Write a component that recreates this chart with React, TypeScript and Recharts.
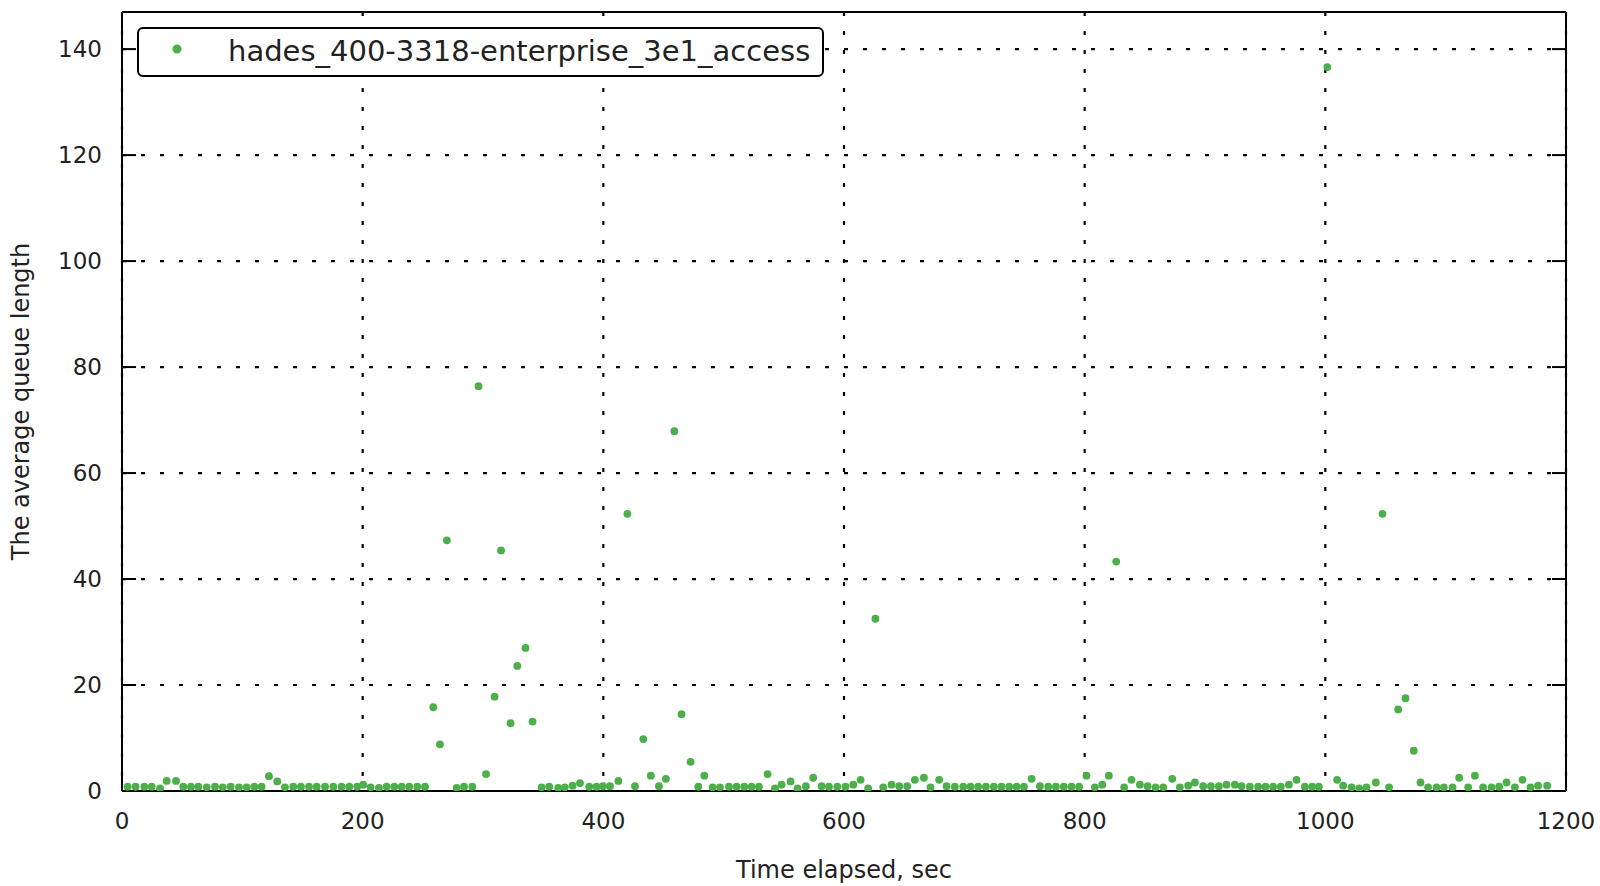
import React from 'react';
import { ScatterChart, Scatter, XAxis, YAxis, CartesianGrid, Legend } from 'recharts';

const seriesName = 'hades_400-3318-enterprise_3e1_access';
const timeTicks = [0, 200, 400, 600, 800, 1000, 1200];
const queueTicks = [0, 20, 40, 60, 80, 100, 120, 140];

// sample times (sec)
const elapsed = [
  4.7, 11.3, 18.6, 24.7, 31.6, 37.1, 44.9, 51, 57.3, 63.4, 70.4, 77.3, 83.7, 90.3, 97.2,
  103.6, 110, 116, 122.1, 129, 135.4, 142.3, 148.7, 155.4, 161.8, 168.7, 175.6, 182.5, 188.9, 195.5,
  200.5, 206.6, 213.5, 219.9, 226.3, 232.4, 238.7, 245.4, 251.8, 258.7, 264.2, 270, 278.1, 284.2,
  291.1, 296.3, 302.5, 309.6, 315, 322.9, 328.5, 335.3, 341.2, 348.7, 355, 362.5, 368, 374.5,
  380.6, 388.3, 394.4, 399.7, 405.5, 412.5, 420, 426.3, 433.2, 439.5, 446.2, 452, 459, 465,
  472.5, 478.9, 483.9, 490.8, 496.9, 504.4, 510.7, 517.1, 523.2, 529.3, 536.5, 542.6, 548.1,
  555.6, 561.4, 568.3, 574.4, 581.4, 587.5, 594.4, 601.2, 607.7, 613.8, 620.1, 626.1, 632.6,
  639.5, 645.9, 652.5, 658.9, 666.4, 671.9, 679.1, 685.2, 692.1, 699.1, 705.2, 711.5, 717.9,
  724.5, 730.9, 737.3, 743.4, 749.5, 755.9, 762.8, 769.7, 776.1, 782.7, 789.1, 795.4, 801.5,
  808.5, 814.6, 820.1, 826.2, 832.8, 838.9, 845.9, 852.3, 858.9, 865.3, 872.8, 879.1, 886,
  891.6, 898.5, 904.9, 911.5, 917.9, 924.8, 930.4, 937.3, 944.2, 950.3, 956.6, 963, 969.7,
  976.1, 983, 989.1, 994.6, 1001.7, 1009.8, 1014.8, 1021.8, 1028.1, 1034.2, 1042, 1047.5, 1053,
  1060.5, 1066.6, 1073.5, 1079.1, 1085.4, 1092.4, 1098.5, 1105.7, 1111.2, 1118.7, 1124.3,
  1131.1, 1138.1, 1144.4, 1150.6, 1157.5, 1163.9, 1170.5, 1176.8, 1184.3,
];

// average queue length at each sample
const avgQueue = [
  0.8, 0.8, 0.8, 0.8, 0.5, 1.9, 1.9, 0.8, 0.8, 0.8, 0.7, 0.8, 0.7, 0.8, 0.7,
  0.7, 0.8, 0.8, 2.8, 1.8, 0.7, 0.8, 0.8, 0.8, 0.8, 0.8, 0.8, 0.8, 0.8, 0.8,
  1.2, 0.7, 0.6, 0.8, 0.8, 0.8, 0.8, 0.8, 0.8, 15.8, 8.8, 47.3, 0.6, 0.8,
  0.8, 76.4, 3.2, 17.8, 45.4, 12.8, 23.6, 27.0, 13.1, 0.7, 0.8, 0.6, 0.7, 1.0,
  1.5, 0.8, 0.8, 0.9, 0.9, 1.9, 52.3, 0.9, 9.8, 2.9, 0.9, 2.3, 67.9, 14.5,
  5.5, 0.8, 2.9, 0.7, 0.7, 0.8, 0.8, 0.8, 0.8, 0.8, 3.2, 0.5, 1.2,
  1.8, 0.5, 0.9, 2.5, 0.9, 0.8, 0.8, 0.8, 1.2, 2.1, 0.5, 32.5, 0.7,
  1.2, 0.9, 0.9, 2.1, 2.5, 0.7, 2.1, 0.9, 0.8, 0.8, 0.8, 0.8, 0.8,
  0.8, 0.8, 0.8, 0.8, 0.8, 2.3, 0.9, 0.8, 0.8, 0.8, 0.8, 0.8, 2.9,
  0.7, 1.2, 2.9, 43.3, 0.7, 2.1, 1.2, 0.9, 0.7, 0.7, 2.3, 0.7, 1.0,
  1.6, 0.9, 0.9, 0.9, 1.2, 1.2, 0.9, 0.8, 0.8, 0.8, 0.8, 0.8, 1.2,
  2.1, 0.8, 0.8, 0.8, 136.6, 2.1, 1.0, 0.7, 0.5, 0.7, 1.6, 52.3, 0.7,
  15.4, 17.5, 7.6, 1.6, 0.7, 0.7, 0.7, 0.7, 2.5, 0.7, 2.9,
  0.7, 0.7, 0.8, 1.6, 0.7, 2.1, 0.7, 1.0, 1.0,
];

const points = elapsed.map((t, i) => ({ t, q: avgQueue[i] }));

const green = '#4daf4a';
const font = 'DejaVu Sans';
const tickText = { fill: '#222', fontSize: 23, fontFamily: font };
// the inner tick axes draw only the marks, no text
const noText = () => <g />;

const Dot = (props: any) => <circle cx={props.cx} cy={props.cy} r={3.9} fill={green} />;

const LegendBox = () => (
  <div
    style={{
      boxSizing: 'border-box',
      width: 687,
      height: 50,
      border: '2px solid #000',
      borderRadius: 6,
      background: '#fff',
      position: 'relative',
      fontFamily: font,
      fontSize: 29,
      color: '#222',
    }}
  >
    <svg width={12} height={12} style={{ position: 'absolute', left: 32, top: 14 }}>
      <circle cx={6} cy={6} r={4.5} fill={green} />
    </svg>
    <span style={{ position: 'absolute', left: 89, top: 4, lineHeight: '36px', whiteSpace: 'nowrap' }}>
      {seriesName}
    </span>
  </div>
);

const XTitle = (props: any) => {
  const vb = props.viewBox || { x: 122, y: 791, width: 1444, height: 95 };
  return (
    <text x={vb.x + vb.width / 2} y={vb.y + 79} textAnchor="middle" dominantBaseline="central"
      fontSize={24} fontFamily={font} fill="#222">
      Time elapsed, sec
    </text>
  );
};

const YTitle = (props: any) => {
  const vb = props.viewBox || { x: 0, y: 12, width: 122, height: 779 };
  const cx = vb.x + 21;
  const cy = vb.y + vb.height / 2;
  return (
    <text x={cx} y={cy} transform={`rotate(-90 ${cx} ${cy})`} textAnchor="middle"
      dominantBaseline="central" fontSize={24} fontFamily={font} fill="#222">
      The average queue length
    </text>
  );
};

const frame = { stroke: '#000', strokeWidth: 2 };

export default function App() {
  return (
    <div style={{ position: 'absolute', left: 0, top: 0, width: 1600, height: 886, background: '#fff' }}>
      <ScatterChart width={1600} height={886} margin={{ top: 12, right: 34, left: 0, bottom: 0 }}>
        <CartesianGrid xAxisId="x" yAxisId="y" stroke="#000" strokeWidth={2.2} strokeDasharray="4 15"
          verticalValues={timeTicks} horizontalValues={queueTicks} />
        <XAxis xAxisId="x" dataKey="t" type="number" domain={[0, 1200]} ticks={timeTicks}
          allowDataOverflow interval={0} height={95} axisLine={false} tickLine={false}
          tickSize={0} tickMargin={22} tick={tickText} label={<XTitle />} />
        <XAxis xAxisId="xIn" type="number" domain={[0, 1200]} ticks={timeTicks} allowDataOverflow
          interval={0} mirror tick={noText} tickSize={14} axisLine={frame} tickLine={frame} height={20} />
        <XAxis xAxisId="xTop" orientation="top" type="number" domain={[0, 1200]} ticks={timeTicks}
          allowDataOverflow interval={0} mirror tick={noText} tickSize={14} axisLine={frame} tickLine={frame} height={20} />
        <YAxis yAxisId="y" dataKey="q" type="number" domain={[0, 147]} ticks={queueTicks}
          allowDataOverflow interval={0} width={122} axisLine={false} tickLine={false}
          tickSize={0} tickMargin={20} tick={tickText} label={<YTitle />} />
        <YAxis yAxisId="yIn" type="number" domain={[0, 147]} ticks={queueTicks} allowDataOverflow
          interval={0} mirror tick={noText} tickSize={14} axisLine={frame} tickLine={frame} width={20} />
        <YAxis yAxisId="yRight" orientation="right" type="number" domain={[0, 147]} ticks={queueTicks}
          allowDataOverflow interval={0} mirror tick={noText} tickSize={14} axisLine={frame} tickLine={frame} width={20} />
        <Legend layout="horizontal" verticalAlign="middle" align="center" content={<LegendBox />}
          wrapperStyle={{ top: 27, left: 137, width: 687, height: 50 }} />
        <Scatter xAxisId="x" yAxisId="y" name={seriesName} data={points} fill={green}
          shape={<Dot />} isAnimationActive={false} />
      </ScatterChart>
    </div>
  );
}
